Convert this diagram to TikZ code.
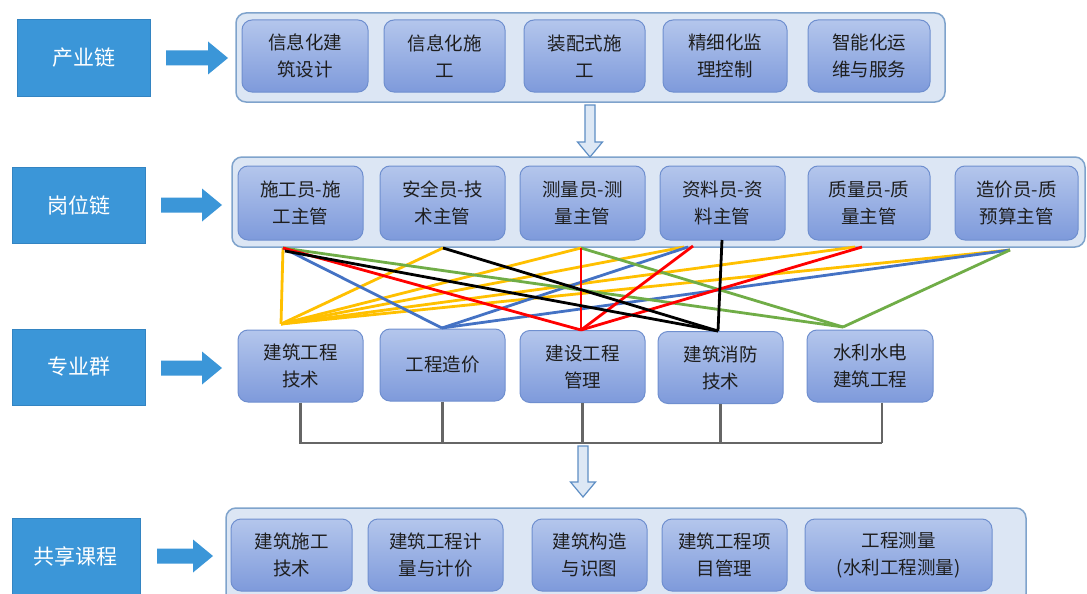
\documentclass[tikz,border=0pt]{standalone}
\usepackage{fontspec}
\setmainfont{Noto Sans CJK SC}
\definecolor{labblue}{HTML}{3B96D8}
\definecolor{labborder}{HTML}{3384C2}
\definecolor{grpfill}{HTML}{DCE6F4}
\definecolor{grpborder}{HTML}{7FA3CC}
\definecolor{boxtop}{HTML}{B4C6EC}
\definecolor{boxbot}{HTML}{7E9ADB}
\definecolor{boxborder}{HTML}{6F8FCF}
\definecolor{boxtext}{HTML}{1E1E1E}
\definecolor{brgray}{HTML}{666666}
\definecolor{harrfill}{HTML}{DDE8F5}
\definecolor{harrborder}{HTML}{5E8EC4}
\definecolor{lyellow}{HTML}{FFC000}
\definecolor{lblue}{HTML}{4472C4}
\definecolor{lred}{HTML}{FF0000}
\definecolor{lgreen}{HTML}{70AD47}
\tikzset{
  lab/.style={draw=labborder, line width=1pt, fill=labblue, text=white,
    minimum width=133pt, minimum height=76pt, inner sep=0pt,
    font=\fontsize{21}{26}\selectfont},
  grp/.style={draw=grpborder, line width=1.5pt, fill=grpfill, rounded corners=10pt, inner sep=0pt},
  box/.style={draw=boxborder, line width=1pt, rounded corners=10pt, top color=boxtop,
    bottom color=boxbot, minimum height=72pt, align=center, text=boxtext, inner sep=0pt,
    font=\fontsize{18.5}{27}\selectfont},
  link/.style={line width=2.8pt},
  bracket/.style={draw=brgray, line width=2.2pt},
  pics/blockarr/.style={code={
    \fill[labblue] (0,-7.5) -- (#1-20,-7.5) -- (#1-20,-16.5) -- (#1,0) -- (#1-20,16.5) -- (#1-20,7.5) -- (0,7.5) -- cycle;}},
  pics/downarr/.style={code={
    \draw[fill=harrfill, draw=harrborder, line width=1.2pt, line join=miter]
      (-5,0) -- (5,0) -- (5,#1-15) -- (12.5,#1-15) -- (0,#1) -- (-12.5,#1-15) -- (-5,#1-15) -- cycle;}}
}
\begin{document}
\begin{tikzpicture}[x=1pt,y=-1pt]
\useasboundingbox[fill=white] (0,0) rectangle (1087,594);

% ---------- labels and block arrows
\node[lab] (lab1) at (83.5,58) {产业链};
\node[lab] (lab2) at (78.5,205) {岗位链};
\node[lab] (lab3) at (78.5,367) {专业群};
\node[lab, minimum width=128pt] (lab4) at (76,556) {共享课程};
\pic at (166,58) {blockarr=62};
\pic at (161,205) {blockarr=61};
\pic at (161,368) {blockarr=61};
\pic at (157,556) {blockarr=56};

% ---------- groups
\node[grp, minimum width=709pt, minimum height=89pt] (g1) at (590.5,57.5) {};
\node[grp, minimum width=853pt, minimum height=90pt] (g2) at (658.5,202) {};
\node[grp, minimum width=800pt, minimum height=96pt] (g4) at (626,556) {};

% ---------- row 1
\node[box, minimum width=126pt] (r11) at (305,56) {信息化建\\筑设计};
\node[box, minimum width=121pt] (r12) at (444.5,56) {信息化施\\工};
\node[box, minimum width=121pt] (r13) at (584.5,56) {装配式施\\工};
\node[box, minimum width=124pt] (r14) at (725,56) {精细化监\\理控制};
\node[box, minimum width=122pt] (r15) at (869,56) {智能化运\\维与服务};

% ---------- row 2
\node[box, minimum width=125pt, minimum height=74pt] (r21) at (300.5,203) {施工员-施\\工主管};
\node[box, minimum width=125pt, minimum height=74pt] (r22) at (442.5,203) {安全员-技\\术主管};
\node[box, minimum width=125pt, minimum height=74pt] (r23) at (582.5,203) {测量员-测\\量主管};
\node[box, minimum width=125pt, minimum height=74pt] (r24) at (722.5,203) {资料员-资\\料主管};
\node[box, minimum width=122pt, minimum height=74pt] (r25) at (869,203) {质量员-质\\量主管};
\node[box, minimum width=123pt, minimum height=74pt] (r26) at (1016.5,203) {造价员-质\\预算主管};

% ---------- row 3
\node[box, minimum width=125pt] (r31) at (300.5,366) {建筑工程\\技术};
\node[box, minimum width=125pt] (r32) at (442.5,365) {工程造价};
\node[box, minimum width=125pt] (r33) at (582.5,366.5) {建设工程\\管理};
\node[box, minimum width=125pt] (r34) at (720.5,367.5) {建筑消防\\技术};
\node[box, minimum width=126pt] (r35) at (870,366) {水利水电\\建筑工程};

% ---------- row 4
\node[box, minimum width=121pt] (r41) at (291.5,555) {建筑施工\\技术};
\node[box, minimum width=135pt] (r42) at (435.5,555) {建筑工程计\\量与计价};
\node[box, minimum width=115pt] (r43) at (589.5,555) {建筑构造\\与识图};
\node[box, minimum width=125pt] (r44) at (724.5,555) {建筑工程项\\目管理};
\node[box, minimum width=187pt] (r45) at (898.5,555) {工程测量\\(水利工程测量)};

% ---------- hollow down arrows
\pic at (590,105) {downarr=52};
\pic at (583,446) {downarr=51};

% ---------- bracket under row 3
\coordinate (br) at (882,443);
\draw[bracket] (r31.south) |- (br);
\draw[bracket] (r32.south) -- (r32.south |- br);
\draw[bracket] (r33.south) -- (r33.south |- br);
\draw[bracket] (r34.south) -- (r34.south |- br);
\draw[bracket] (r35.south -| br) -- (br);

% ---------- link end points
\coordinate (P1) at (283,248);
\coordinate (P1k) at (285,251);
\coordinate (P2) at (443,248);
\coordinate (P3) at (581,248);
\coordinate (P4y) at (684,247);
\coordinate (P4b) at (688,247);
\coordinate (P4r) at (693,246);
\coordinate (Pk) at (722,240);
\coordinate (P5y) at (855,247);
\coordinate (P5r) at (862,247);
\coordinate (P6) at (1010,250);
\coordinate (Q1) at (281,324);
\coordinate (Q2) at (442,328);
\coordinate (Q3) at (581,330);
\coordinate (Q4) at (718,331);
\coordinate (Q5) at (843,327);

% yellow
\draw[link, lyellow] (P1) -- (Q1);
\draw[link, lyellow] (P2) -- (Q1);
\draw[link, lyellow] (P3) -- (Q1);
\draw[link, lyellow] (P4y) -- (Q1);
\draw[link, lyellow] (P5y) -- (Q1);
\draw[link, lyellow] (P6) -- (Q1);
% blue
\draw[link, lblue] (P1) -- (Q2);
\draw[link, lblue] (P4b) -- (Q2);
\draw[link, lblue] (P6) -- (Q2);
% green
\draw[link, lgreen] (P1) -- (Q5);
\draw[link, lgreen] (P3) -- (Q5);
\draw[link, lgreen] (P6) -- (Q5);
% red
\draw[link, lred] (P1) -- (Q3);
\draw[link, lred] (P3) -- (Q3);
\draw[link, lred] (P4r) -- (Q3);
\draw[link, lred] (P5r) -- (Q3);
% black
\draw[link, black] (P1k) -- (Q4);
\draw[link, black] (P2) -- (Q4);
\draw[link, black] (Pk) -- (Q4);
\end{tikzpicture}
\end{document}
